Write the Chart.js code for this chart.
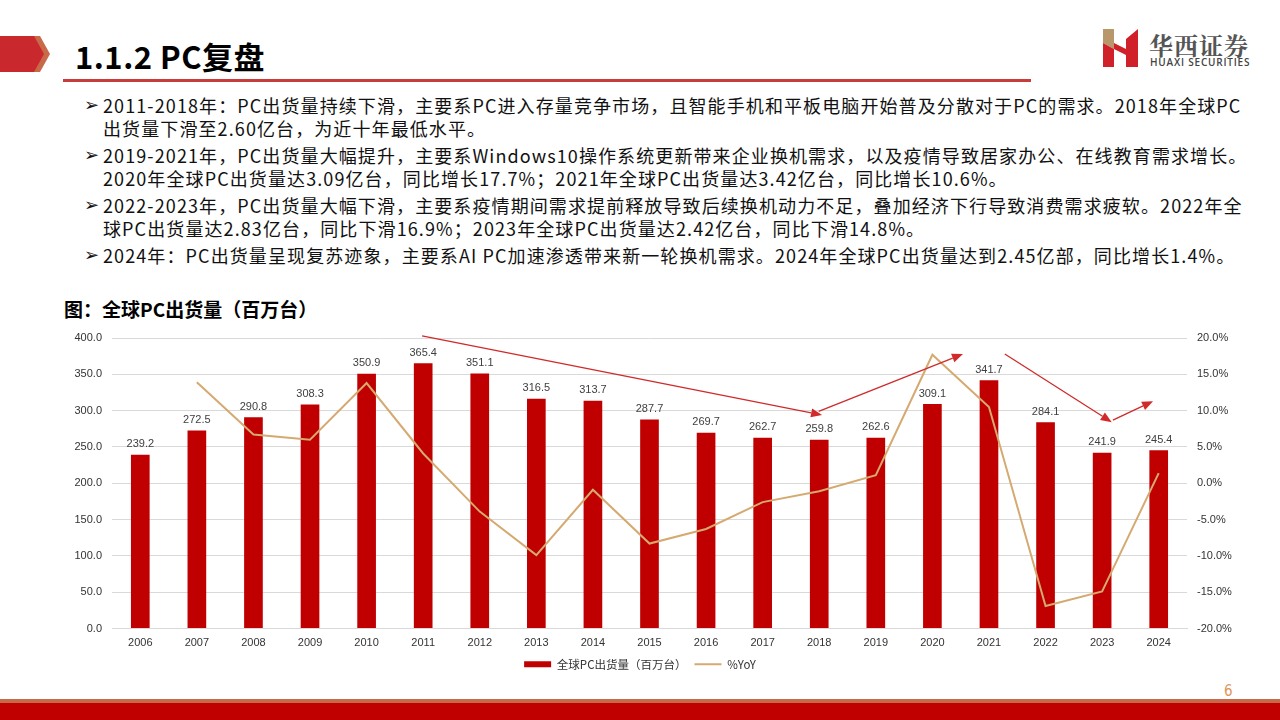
<!DOCTYPE html>
<html>
<head>
<meta charset="utf-8">
<script src="https://cdn.jsdelivr.net/npm/chart.js@4"></script>
<style>
  body { margin: 0; width: 1280px; height: 720px; position: relative; overflow: hidden; background: #fff;
         font-family: "Noto Sans CJK SC", "Microsoft YaHei", sans-serif; }
  .abs { position: absolute; }
  .title { left: 75px; top: 33px; font-size: 31px; font-weight: bold; color: #000; letter-spacing: 0.5px; }
  .rule { left: 63px; top: 79px; width: 968px; height: 3px; background: #C83C3C; }
  .txt { left: 84px; top: 94px; font-size: 18px; color: #111; line-height: 23px; letter-spacing: 1.1px; }
  .txt .item { position: relative; padding-left: 19px; margin-bottom: 4px; white-space: nowrap; }
  .txt .item:before { content: "➢"; position: absolute; left: 0; top: -1px; font-size: 18px; font-family: "DejaVu Sans", sans-serif; letter-spacing: 0; }
  .sub { left: 64px; top: 295px; font-size: 19px; font-weight: bold; color: #000; }
  #wrap { position: absolute; left: 40px; top: 320px; width: 1200px; height: 360px; }
  .band1 { left: 0; top: 699px; width: 1280px; height: 4px; background: #C8694A; }
  .band2 { left: 0; top: 703px; width: 1280px; height: 17px; background: #C00000; }
  .page { left: 1224px; top: 682px; font-size: 15px; color: #E0955A; font-family: "DejaVu Sans Condensed", sans-serif; font-weight: 200; }
</style>
</head>
<body>
<!-- header -->
<svg class="abs" style="left:0;top:36px" width="60" height="36">
  <polygon points="0,0 40,0 50,18 40,36 0,36" fill="#C8694A"/>
  <polygon points="0,0 34,0 44,18 34,36 0,36" fill="#C9282D"/>
</svg>
<div class="abs title">1.1.2 PC复盘</div>
<div class="abs rule"></div>
<svg class="abs" style="left:1100px;top:27px" width="42" height="42">
  <polygon points="3,2 14,2 14,22 3,16" fill="#B8976A"/>
  <polygon points="3,16 14,22 14,40 3,40" fill="#D0202A"/>
  <polygon points="14,16 26,22 26,12 38,2 38,40 26,40 26,28 14,22" fill="#D0202A"/>
</svg>
<div class="abs" style="left:1149px;top:27px;font-size:24px;font-weight:bold;color:#555;letter-spacing:1px;font-family:'Noto Serif CJK SC','Noto Sans CJK SC',serif;">华西证券</div>
<div class="abs" style="left:1150px;top:55px;font-size:10px;font-weight:600;color:#444;letter-spacing:0.8px;font-family:'Open Sans',sans-serif;">HUAXI SECURITIES</div>

<div class="abs txt">
  <div class="item">2011-2018年：PC出货量持续下滑，主要系PC进入存量竞争市场，且智能手机和平板电脑开始普及分散对于PC的需求。2018年全球PC<br>出货量下滑至2.60亿台，为近十年最低水平。</div>
  <div class="item">2019-2021年，PC出货量大幅提升，主要系Windows10操作系统更新带来企业换机需求，以及疫情导致居家办公、在线教育需求增长。<br>2020年全球PC出货量达3.09亿台，同比增长17.7%；2021年全球PC出货量达3.42亿台，同比增长10.6%。</div>
  <div class="item">2022-2023年，PC出货量大幅下滑，主要系疫情期间需求提前释放导致后续换机动力不足，叠加经济下行导致消费需求疲软。2022年全<br>球PC出货量达2.83亿台，同比下滑16.9%；2023年全球PC出货量达2.42亿台，同比下滑14.8%。</div>
  <div class="item">2024年：PC出货量呈现复苏迹象，主要系AI PC加速渗透带来新一轮换机需求。2024年全球PC出货量达到2.45亿部，同比增长1.4%。</div>
</div>

<div class="abs sub">图：全球PC出货量（百万台）</div>
<div id="wrap"><canvas id="chart" width="1200" height="360"></canvas></div>

<div class="abs band1"></div>
<div class="abs band2"></div>
<div class="abs page">6</div>

<script>
// data
const years = ['2006', '2007', '2008', '2009', '2010', '2011', '2012', '2013', '2014', '2015',
               '2016', '2017', '2018', '2019', '2020', '2021', '2022', '2023', '2024'];
const shipments = [239.2, 272.5, 290.8, 308.3, 350.9, 365.4, 351.1, 316.5, 313.7, 287.7,
                   269.7, 262.7, 259.8, 262.6, 309.1, 341.7, 284.1, 241.9, 245.4];
const yoy = [null, 13.9, 6.7, 6.0, 13.8, 4.1, -3.9, -9.9, -0.9, -8.3,
             -6.3, -2.6, -1.1, 1.1, 17.7, 10.5, -16.9, -14.9, 1.4];
// trend arrows drawn on the slide: [from index, from value, to index, to value]
const arrows = [
  [4.98, 403, 12.05, 294],
  [11.99, 299, 14.54, 378],
  [15.28, 378, 17.17, 284],
  [17.19, 287, 17.9, 313]
];

const numFont = { family: 'Liberation Sans, Arial, sans-serif', size: 11 };

// value labels on top of bars
const barLabels = {
  id: 'barLabels',
  afterDatasetsDraw(chart) {
    const ctx = chart.ctx;
    const meta = chart.getDatasetMeta(0);
    ctx.save();
    ctx.font = '11px Liberation Sans, Arial, sans-serif';
    ctx.fillStyle = '#404040';
    ctx.textAlign = 'center';
    ctx.textBaseline = 'bottom';
    meta.data.forEach((bar, i) => {
      ctx.fillText(shipments[i].toFixed(1), bar.x, bar.y - 5);
    });
    ctx.restore();
  }
};

// red trend arrows
const trendArrows = {
  id: 'trendArrows',
  afterDatasetsDraw(chart) {
    const ctx = chart.ctx;
    const xs = chart.scales.x, ys = chart.scales.y;
    ctx.save();
    ctx.strokeStyle = '#D02A2A';
    ctx.fillStyle = '#D02A2A';
    ctx.lineWidth = 1.3;
    arrows.forEach(a => {
      const x1 = xs.getPixelForValue(a[0]), y1 = ys.getPixelForValue(a[1]);
      const x2 = xs.getPixelForValue(a[2]), y2 = ys.getPixelForValue(a[3]);
      const ang = Math.atan2(y2 - y1, x2 - x1);
      const hl = 11, hw = 4.5;
      const bx = x2 - hl * Math.cos(ang), by = y2 - hl * Math.sin(ang);
      ctx.beginPath();
      ctx.moveTo(x1, y1);
      ctx.lineTo(bx, by);
      ctx.stroke();
      ctx.beginPath();
      ctx.moveTo(x2, y2);
      ctx.lineTo(bx + hw * Math.sin(ang), by - hw * Math.cos(ang));
      ctx.lineTo(bx - hw * Math.sin(ang), by + hw * Math.cos(ang));
      ctx.closePath();
      ctx.fill();
    });
    ctx.restore();
  }
};

const chart = new Chart(document.getElementById('chart').getContext('2d'), {
  type: 'bar',
  data: {
    labels: years,
    datasets: [{
      label: '全球PC出货量（百万台）',
      data: shipments,
      backgroundColor: '#C00000',
      barPercentage: 0.66,
      categoryPercentage: 0.5,
      yAxisID: 'y',
      pointStyle: 'rect',
      order: 2
    }, {
      type: 'line',
      label: '%YoY',
      data: yoy,
      borderColor: '#D5AA70',
      backgroundColor: '#D5AA70',
      borderWidth: 2,
      pointRadius: 0,
      tension: 0,
      yAxisID: 'y1',
      pointStyle: 'line',
      order: 1
    }]
  },
  options: {
    responsive: false,
    animation: false,
    layout: { padding: { top: 18, left: 0, right: 0, bottom: 0 } },
    plugins: {
      legend: {
        position: 'bottom',
        labels: {
          usePointStyle: true,
          pointStyleWidth: 27,
          boxHeight: 6,
          padding: 8,
          color: '#333',
          font: { family: 'Noto Sans CJK SC, sans-serif', size: 11.5 },
          sort: (a, b) => a.datasetIndex - b.datasetIndex
        }
      },
      tooltip: { enabled: false }
    },
    scales: {
      x: {
        grid: { display: false, drawTicks: false },
        border: { color: '#D9D9D9' },
        ticks: { color: '#333', font: numFont, padding: 8 },
        afterFit(s) { s.height = 22; }
      },
      y: {
        position: 'left',
        min: 0, max: 400,
        ticks: { stepSize: 50, color: '#333', font: numFont, padding: 10,
                 callback: v => v.toFixed(1) },
        grid: { color: '#D9D9D9', drawTicks: false },
        border: { display: false },
        afterFit(s) { s.width = 72; }
      },
      y1: {
        position: 'right',
        min: -20, max: 20,
        ticks: { stepSize: 5, color: '#333', font: numFont, padding: 2,
                 callback: v => v.toFixed(1) + '%' },
        grid: { display: false },
        border: { display: false },
        afterFit(s) { s.width = 53; }
      }
    }
  },
  plugins: [barLabels, trendArrows]
});
</script>
</body>
</html>
